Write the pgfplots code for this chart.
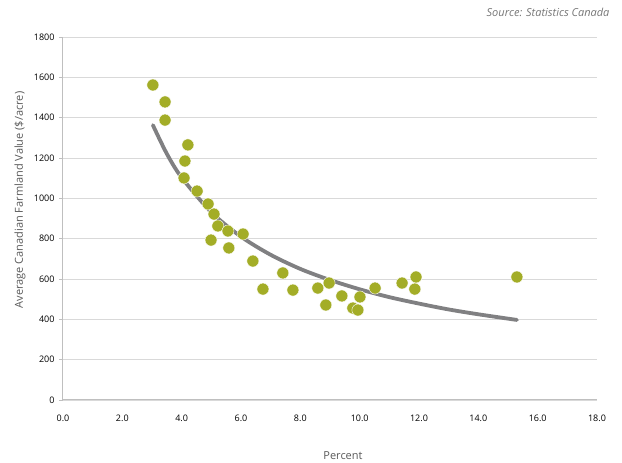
\documentclass[border=0pt]{standalone}
\usepackage{fontspec}
\setmainfont{Open Sans}
\usepackage{pgfplots}
\pgfplotsset{compat=1.18}
\definecolor{dotc}{RGB}{163,173,39}
\definecolor{trend}{RGB}{128,128,130}
\definecolor{gridc}{RGB}{217,217,217}
\definecolor{axc}{RGB}{191,191,191}
\definecolor{labc}{RGB}{89,89,89}
\definecolor{srcc}{RGB}{118,118,118}
\begin{document}
\begin{tikzpicture}
\path[use as bounding box] (0pt,0pt) rectangle (622pt,463pt);
\begin{axis}[
  at={(63pt,63pt)}, anchor=south west,
  scale only axis, width=534pt, height=363pt,
  xmin=0, xmax=18, ymin=0, ymax=1800,
  axis lines*=left,
  axis line style={draw=axc, line width=1pt},
  ymajorgrids, grid style={draw=gridc, line width=0.9pt},
  xtick={0,2,...,18}, ytick={0,200,...,1800},
  xtick style={draw=none},
  ytick style={draw=axc, line width=0.9pt},
  tick align=outside, major tick length=4pt,
  /pgf/number format/assume math mode=true,
  xticklabel={\pgfmathprintnumber[fixed,fixed zerofill,precision=1]{\tick}},
  yticklabel={\pgfmathprintnumber[fixed,precision=0,1000 sep={}]{\tick}},
  ticklabel style={font=\fontsize{9}{10}\selectfont, text=black},
  xticklabel style={yshift=-7pt},
  yticklabel style={xshift=-1pt},
  clip=false,
]
\addplot[draw=trend, line width=3.8pt, line cap=round, smooth] coordinates {
(3.03,1363) (3.5,1221) (4,1103) (5,931) (6,810) (7,720) (8,650) (9,595)
(10,549) (11,510) (12,478) (13,449) (14,425) (15.3,397)};
\addplot[only marks, mark=*, mark size=6pt, mark options={draw=white, line width=0.4pt, fill=dotc}] coordinates {
(3.03,1562) (3.44,1478) (3.44,1388) (4.21,1265) (4.11,1185) (4.08,1101)
(4.52,1036) (4.89,972) (5.09,922) (5.22,863) (5.56,838) (6.07,823)
(4.99,793) (5.59,754) (6.40,689) (7.41,630) (6.74,550) (7.75,545)
(8.59,555) (8.97,580) (8.86,471) (9.40,516) (10.01,511) (9.77,456)
(9.94,446) (10.52,555) (11.43,580) (11.90,610) (11.86,550) (15.30,610)};
\end{axis}
\node[rotate=90, text=labc, font=\fontsize{11}{12}\selectfont] at (20pt,263pt) {Average Canadian Farmland Value (\$/acre)};
\node[text=labc, font=\fontsize{11}{12}\selectfont] at (343pt,7pt) {Percent};
\node[anchor=east, text=srcc, font=\fontsize{11}{12}\selectfont\itshape] at (613pt,451pt) {Source: Statistics Canada};
\end{tikzpicture}
\end{document}
